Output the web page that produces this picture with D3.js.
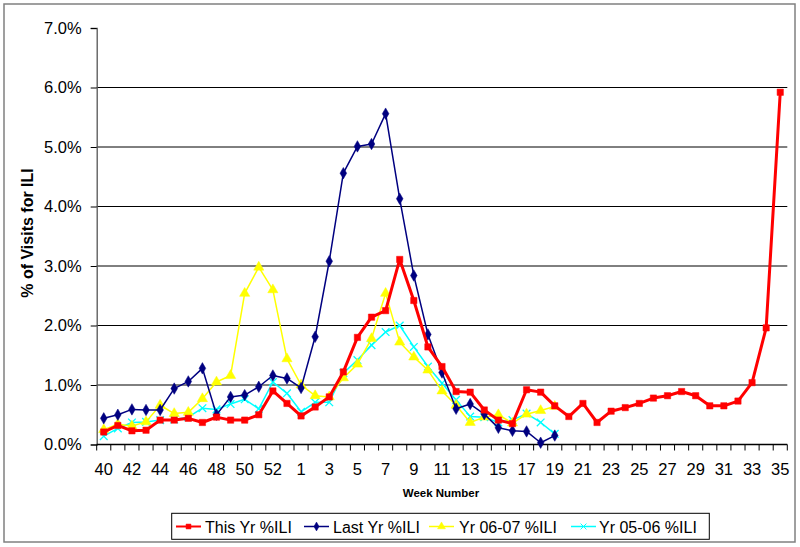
<!DOCTYPE html>
<html>
<head>
<meta charset="utf-8">
<script src="https://cdn.jsdelivr.net/npm/d3@7"></script>
<style>
  html, body { margin: 0; padding: 0; background: #fff; }
  svg { display: block; }
  text { font-family: Arial, "Liberation Sans", sans-serif; }
</style>
</head>
<body>
<svg id="chart" width="800" height="547"></svg>
<script>
// ---- Data ----
const weeks = [40,41,42,43,44,45,46,47,48,49,50,51,52,53,
  1,2,3,4,5,6,7,8,9,10,11,12,13,14,15,16,17,18,19,20,21,22,23,24,25,26,27,28,29,30,31,32,33,34,35];

const tickLabels = [40,42,44,46,48,50,52,1,3,5,7,9,11,13,15,17,19,21,23,25,27,29,31,33,35];

const seriesNames = ["This Yr %ILI", "Last Yr %ILI", "Yr 06-07 %ILI", "Yr 05-06 %ILI"];

// values in percent
const thisYr = [0.21,0.32,0.23,0.24,0.41,0.41,0.44,0.37,0.46,0.41,0.41,0.50,0.90,0.69,
  0.48,0.63,0.80,1.22,1.80,2.14,2.25,3.11,2.42,1.64,1.31,0.89,0.88,0.58,0.41,0.35,0.92,0.88,0.65,
  0.47,0.69,0.37,0.56,0.62,0.69,0.78,0.82,0.89,0.82,0.65,0.65,0.73,1.04,1.96,5.92];

const lastYr = [0.44,0.50,0.59,0.58,0.58,0.94,1.06,1.28,0.50,0.80,0.83,0.97,1.16,1.11,
  0.95,1.81,3.08,4.56,5.01,5.05,5.56,4.13,2.84,1.85,1.21,0.60,0.68,0.51,0.28,0.23,0.22,0.03,0.15];

const yr0607 = [0.25,0.34,0.31,0.38,0.66,0.52,0.54,0.77,1.05,1.16,2.54,2.98,2.60,1.44,
  1.00,0.82,0.80,1.12,1.35,1.78,2.54,1.72,1.47,1.25,0.90,0.66,0.37,0.46,0.50,0.36,0.51,0.57,0.64];

const yr0506 = [0.14,0.27,0.37,0.38,0.41,0.42,0.46,0.61,0.59,0.68,0.76,0.60,1.05,0.86,
  0.55,0.71,0.71,1.20,1.42,1.67,1.89,2.00,1.64,1.31,1.03,0.75,0.47,0.46,0.37,0.41,0.52,0.37,0.18];

const yTicks = [0,1,2,3,4,5,6,7];

// ---- Layout ----
const svg = d3.select("#chart");
const plot = {left: 96.7, right: 787.3, top: 28, bottom: 444.5};

svg.append("rect").attr("x", 4).attr("y", 4).attr("width", 791).attr("height", 538)
  .attr("fill", "#fff").attr("stroke", "#808080").attr("stroke-width", 1.5);

const idx = weeks.map((w, i) => i);
const x = d3.scaleBand().domain(idx).range([plot.left, plot.right]).padding(0);
const xc = i => x(i) + x.bandwidth() / 2;
const y = d3.scaleLinear().domain([0, 7]).range([plot.bottom, plot.top]);

// gridlines
svg.append("g").selectAll("line").data(yTicks.filter(t => t > 0 && t < 7)).join("line")
  .attr("x1", plot.left).attr("x2", plot.right)
  .attr("y1", d => y(d)).attr("y2", d => y(d))
  .attr("stroke", "#000").attr("stroke-width", 1);

// y axis
const yAxis = svg.append("g").attr("transform", `translate(${plot.left},0)`)
  .call(d3.axisLeft(y).tickValues(yTicks).tickFormat(d => d.toFixed(1) + "%").tickSize(6).tickPadding(9));
yAxis.select(".domain").attr("stroke", "#555").attr("stroke-width", 1.3);
yAxis.selectAll(".tick line").attr("stroke", "#000");
yAxis.selectAll("text").attr("font-size", "16.5px").attr("fill", "#000")
  .style("font-family", "Arial, 'Liberation Sans', sans-serif");

// x axis line
svg.append("line").attr("x1", plot.left).attr("x2", plot.right)
  .attr("y1", plot.bottom).attr("y2", plot.bottom).attr("stroke", "#000").attr("stroke-width", 1.3);

// x ticks at category boundaries
const bounds = idx.map(i => x(i)).concat([x(idx[idx.length - 1]) + x.bandwidth()]);
svg.append("g").selectAll("line").data(bounds).join("line")
  .attr("x1", d => d).attr("x2", d => d)
  .attr("y1", plot.bottom).attr("y2", plot.bottom + 6)
  .attr("stroke", "#000").attr("stroke-width", 1);

// x labels
const labelIdx = idx.filter(i => tickLabels.includes(weeks[i]) && !(weeks[i] === 1 && i < 14) );
svg.append("g").selectAll("text").data(labelIdx.filter(i => !(i > 13 && weeks[i] >= 40))).join("text")
  .attr("x", d => xc(d)).attr("y", 475)
  .attr("text-anchor", "middle").attr("font-size", "16.5px").attr("fill", "#000")
  .text(d => weeks[d]);

// axis titles
svg.append("text").attr("x", 441).attr("y", 497).attr("text-anchor", "middle")
  .attr("font-size", "11.5px").attr("font-weight", "bold").text("Week Number");
svg.append("text").attr("transform", "translate(33,233) rotate(-90)").attr("text-anchor", "middle")
  .attr("font-size", "16px").attr("font-weight", "bold").text("% of Visits for ILI");

// ---- Series ----
const series = [
  {name: seriesNames[3], values: yr0506, color: "#00FFFF", width: 1.5, symbol: d3.symbolTimes, size: 40, fill: false},
  {name: seriesNames[2], values: yr0607, color: "#FFFF00", width: 1.5, symbol: d3.symbolTriangle, size: 45, fill: true},
  {name: seriesNames[1], values: lastYr, color: "#000080", width: 1.5, symbol: d3.symbolDiamond, size: 38, fill: true},
  {name: seriesNames[0], values: thisYr, color: "#FF0000", width: 3, symbol: d3.symbolSquare, size: 40, fill: true}
];

const line = d3.line().x((d, i) => xc(i)).y(d => y(d));

series.forEach(s => {
  const g = svg.append("g");
  g.append("path").datum(s.values).attr("d", line)
    .attr("fill", "none").attr("stroke", s.color).attr("stroke-width", s.width)
    .attr("stroke-linejoin", "round");
  g.selectAll("path.m").data(s.values).join("path").attr("class", "m")
    .attr("transform", (d, i) => `translate(${xc(i)},${y(d)})`)
    .attr("d", d3.symbol().type(s.symbol).size(s.size))
    .attr("fill", s.fill ? s.color : "none")
    .attr("stroke", s.color).attr("stroke-width", s.fill ? 0.5 : 1.3);
});

// ---- Legend ----
const lg = svg.append("g");
lg.append("rect").attr("x", 171.7).attr("y", 513.3).attr("width", 537.6).attr("height", 26)
  .attr("fill", "#fff").attr("stroke", "#000").attr("stroke-width", 1);
const legendItems = [
  {s: series[3], x0: 176, tx: 205},
  {s: series[2], x0: 304, tx: 333},
  {s: series[1], x0: 429, tx: 459},
  {s: series[0], x0: 571, tx: 599}
];
legendItems.forEach(it => {
  const s = it.s, ly = 526.5;
  lg.append("line").attr("x1", it.x0).attr("x2", it.x0 + 25).attr("y1", ly).attr("y2", ly)
    .attr("stroke", s.color).attr("stroke-width", Math.min(s.width, 2));
  lg.append("path").attr("transform", `translate(${it.x0 + 12.5},${ly})`)
    .attr("d", d3.symbol().type(s.symbol).size(s.size * 0.6))
    .attr("fill", s.fill ? s.color : "none").attr("stroke", s.color).attr("stroke-width", s.fill ? 0.5 : 1);
  lg.append("text").attr("x", it.tx).attr("y", 532.5).attr("font-size", "16px").attr("fill", "#000").text(s.name);
});
</script>
</body>
</html>
